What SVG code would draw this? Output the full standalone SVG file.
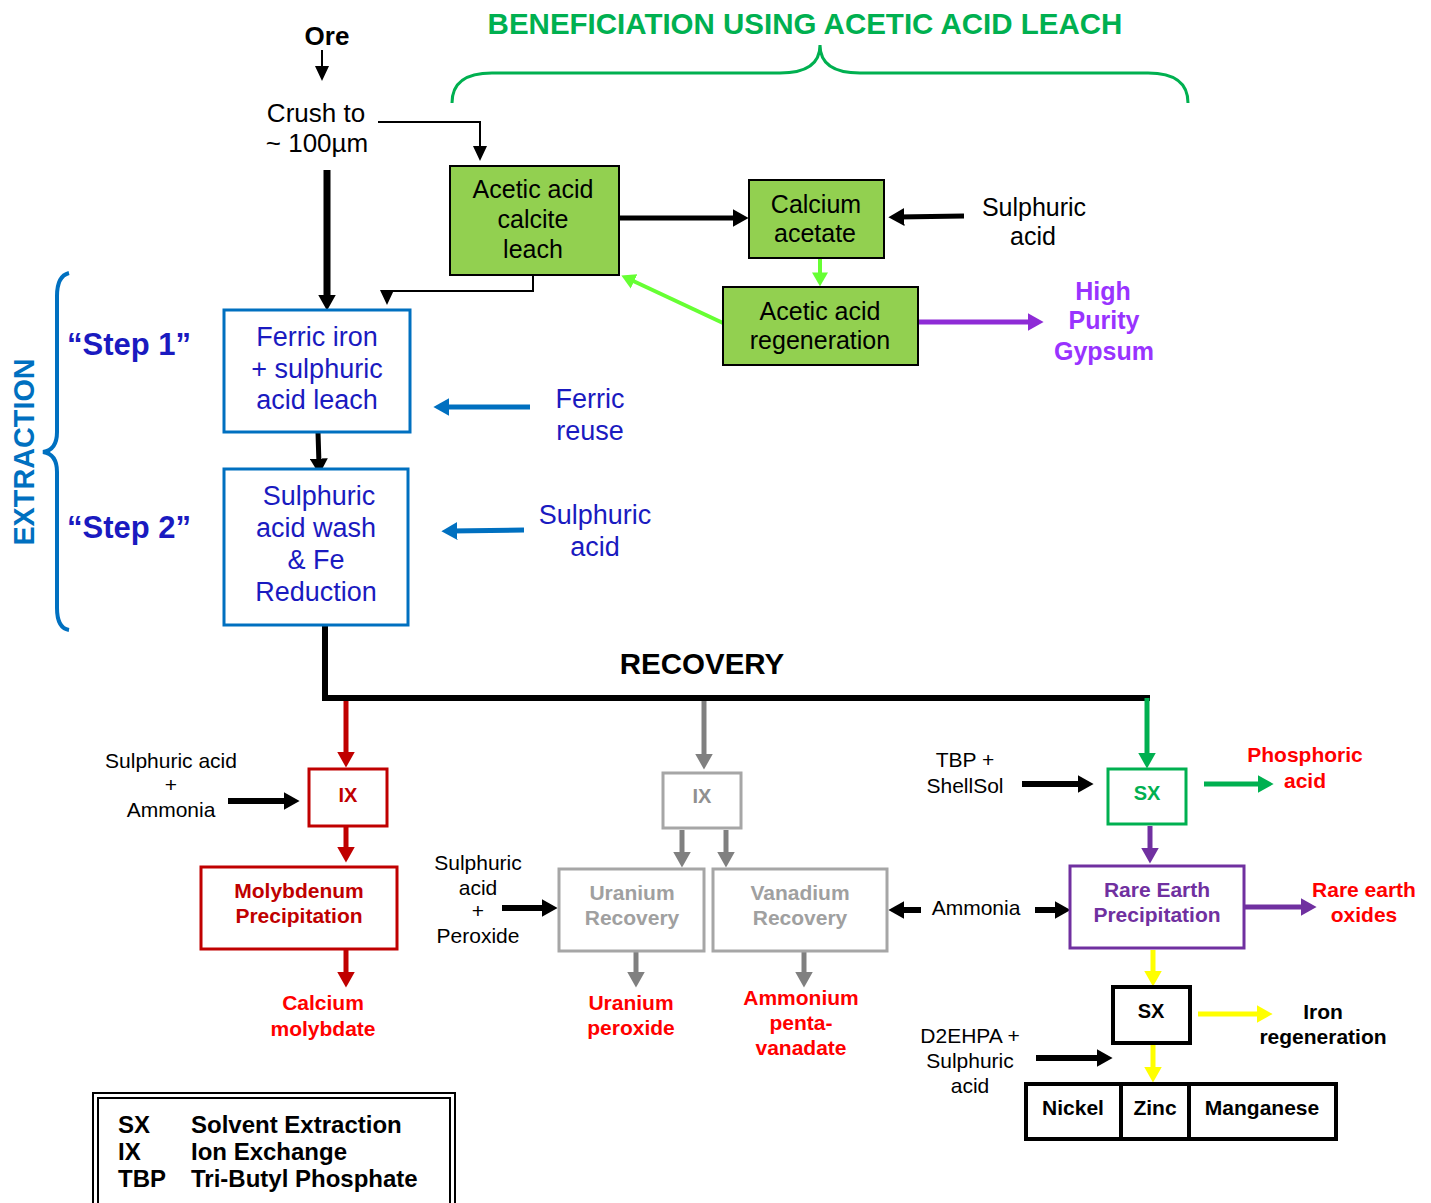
<svg xmlns="http://www.w3.org/2000/svg" width="1431" height="1203" viewBox="0 0 1431 1203">
<style>
text{font-family:"Liberation Sans",Arial,sans-serif;text-anchor:middle}
.b{font-weight:bold}
.t25{font-size:25px;fill:#000}
.t27{font-size:27px;fill:#1A1AC0}
.t21{font-size:21px;fill:#000}
.bb21{font-size:21px;font-weight:bold}
.red{fill:#FF0000}
.dred{fill:#C00000}
.gray{fill:#A0A0A0}
.purp{fill:#7030A0}
.grn{fill:#00B050}
.gbox{fill:#92D050;stroke:#000;stroke-width:2}
.bbox{fill:#fff;stroke:#0070C0;stroke-width:3}
.rbox{fill:#fff;stroke:#C00000;stroke-width:3}
.grbox{fill:#fff;stroke:#A6A6A6;stroke-width:3}
.gnbox{fill:#fff;stroke:#00B050;stroke-width:3}
.pbox{fill:#fff;stroke:#7030A0;stroke-width:3}
.kbox{fill:#fff;stroke:#000;stroke-width:4}
</style>
<defs>
<marker id="mk" viewBox="0 0 10 10" refX="4" refY="5" markerWidth="16" markerHeight="18" markerUnits="userSpaceOnUse" orient="auto" preserveAspectRatio="none"><path d="M0,0L10,5L0,10z" fill="#000"/></marker>
<marker id="mks" viewBox="0 0 10 10" refX="6" refY="5" markerWidth="15" markerHeight="14" markerUnits="userSpaceOnUse" orient="auto" preserveAspectRatio="none"><path d="M0,0L10,5L0,10z" fill="#000"/></marker>
<marker id="mr" viewBox="0 0 10 10" refX="4" refY="5" markerWidth="16" markerHeight="18" markerUnits="userSpaceOnUse" orient="auto" preserveAspectRatio="none"><path d="M0,0L10,5L0,10z" fill="#C00000"/></marker>
<marker id="mg" viewBox="0 0 10 10" refX="4" refY="5" markerWidth="16" markerHeight="18" markerUnits="userSpaceOnUse" orient="auto" preserveAspectRatio="none"><path d="M0,0L10,5L0,10z" fill="#808080"/></marker>
<marker id="mgn" viewBox="0 0 10 10" refX="4" refY="5" markerWidth="16" markerHeight="18" markerUnits="userSpaceOnUse" orient="auto" preserveAspectRatio="none"><path d="M0,0L10,5L0,10z" fill="#00B050"/></marker>
<marker id="mlg" viewBox="0 0 10 10" refX="4" refY="5" markerWidth="14" markerHeight="16" markerUnits="userSpaceOnUse" orient="auto" preserveAspectRatio="none"><path d="M0,0L10,5L0,10z" fill="#66FF33"/></marker>
<marker id="mp" viewBox="0 0 10 10" refX="4" refY="5" markerWidth="16" markerHeight="18" markerUnits="userSpaceOnUse" orient="auto" preserveAspectRatio="none"><path d="M0,0L10,5L0,10z" fill="#7030A0"/></marker>
<marker id="mv" viewBox="0 0 10 10" refX="4" refY="5" markerWidth="16" markerHeight="18" markerUnits="userSpaceOnUse" orient="auto" preserveAspectRatio="none"><path d="M0,0L10,5L0,10z" fill="#8E2BD6"/></marker>
<marker id="my" viewBox="0 0 10 10" refX="4" refY="5" markerWidth="16" markerHeight="18" markerUnits="userSpaceOnUse" orient="auto" preserveAspectRatio="none"><path d="M0,0L10,5L0,10z" fill="#FFFF00"/></marker>
<marker id="mb" viewBox="0 0 10 10" refX="4" refY="5" markerWidth="16" markerHeight="18" markerUnits="userSpaceOnUse" orient="auto" preserveAspectRatio="none"><path d="M0,0L10,5L0,10z" fill="#0070C0"/></marker>
</defs>
<rect width="1431" height="1203" fill="#fff"/>

<!-- headings -->
<g id="title">
<text x="805" y="34" class="b" style="font-size:29.5px;fill:#00B050">BENEFICIATION USING ACETIC ACID LEACH</text>
<path d="M452,103 Q452,73 492,73 L780,73 Q820,73 820,45 Q820,73 860,73 L1148,73 Q1188,73 1188,103" fill="none" stroke="#00B050" stroke-width="3"/>
</g>
<g id="extraction-label">
<path d="M69,273 Q57,276 57,296 L57,432 Q57,450 43,452 Q57,454 57,472 L57,608 Q57,628 69,630" fill="none" stroke="#0070C0" stroke-width="4"/>
<text transform="translate(34,452) rotate(-90)" class="b" style="font-size:28.8px;fill:#0070C0">EXTRACTION</text>
<text x="67" y="355" class="b" style="font-size:31px;fill:#1A1AC0;text-anchor:start">“Step 1”</text>
<text x="67" y="538" class="b" style="font-size:31px;fill:#1A1AC0;text-anchor:start">“Step 2”</text>
</g>
<g id="recovery-label"><text x="702" y="674" class="b" style="font-size:29.5px">RECOVERY</text></g>

<!-- connectors -->
<g id="connectors" fill="none">
<line x1="322" y1="50" x2="322" y2="75" stroke="#000" stroke-width="2" marker-end="url(#mks)"/>
<polyline points="378,122 480,122 480,155" stroke="#000" stroke-width="2" marker-end="url(#mks)"/>
<line x1="327" y1="170" x2="327" y2="301" stroke="#000" stroke-width="7" marker-end="url(#mk)"/>
<polyline points="533,275 533,291 387,291 387,299" stroke="#000" stroke-width="2" marker-end="url(#mks)"/>
<line x1="619" y1="218" x2="739" y2="218" stroke="#000" stroke-width="5" marker-end="url(#mk)"/>
<line x1="964" y1="216" x2="898" y2="217" stroke="#000" stroke-width="5" marker-end="url(#mk)"/>
<line x1="820" y1="258" x2="820" y2="278" stroke="#66FF33" stroke-width="4" marker-end="url(#mlg)"/>
<line x1="723" y1="323" x2="629" y2="279" stroke="#66FF33" stroke-width="4" marker-end="url(#mlg)"/>
<line x1="919" y1="322" x2="1034" y2="322" stroke="#8E2BD6" stroke-width="5" marker-end="url(#mv)"/>
<line x1="530" y1="407" x2="443" y2="407" stroke="#0070C0" stroke-width="5" marker-end="url(#mb)"/>
<line x1="524" y1="530" x2="451" y2="531" stroke="#0070C0" stroke-width="5" marker-end="url(#mb)"/>
<line x1="318" y1="432" x2="319" y2="465" stroke="#000" stroke-width="5" marker-end="url(#mk)"/>
<polyline points="325,625 325,698 1150,698" stroke="#000" stroke-width="6"/>
<line x1="346" y1="701" x2="346" y2="758" stroke="#C00000" stroke-width="5" marker-end="url(#mr)"/>
<line x1="228" y1="801" x2="290" y2="801" stroke="#000" stroke-width="6" marker-end="url(#mk)"/>
<line x1="346" y1="826" x2="346" y2="853" stroke="#C00000" stroke-width="5" marker-end="url(#mr)"/>
<line x1="346" y1="949" x2="346" y2="978" stroke="#C00000" stroke-width="5" marker-end="url(#mr)"/>
<line x1="704" y1="701" x2="704" y2="760" stroke="#808080" stroke-width="5" marker-end="url(#mg)"/>
<line x1="682" y1="830" x2="682" y2="858" stroke="#808080" stroke-width="5" marker-end="url(#mg)"/>
<line x1="726" y1="830" x2="726" y2="858" stroke="#808080" stroke-width="5" marker-end="url(#mg)"/>
<line x1="502" y1="908" x2="548" y2="908" stroke="#000" stroke-width="6" marker-end="url(#mk)"/>
<line x1="921" y1="910" x2="898" y2="910" stroke="#000" stroke-width="6" marker-end="url(#mk)"/>
<line x1="636" y1="951" x2="636" y2="978" stroke="#808080" stroke-width="5" marker-end="url(#mg)"/>
<line x1="804" y1="951" x2="804" y2="978" stroke="#808080" stroke-width="5" marker-end="url(#mg)"/>
<line x1="1147" y1="698" x2="1147" y2="759" stroke="#00B050" stroke-width="5" marker-end="url(#mgn)"/>
<line x1="1022" y1="784" x2="1084" y2="784" stroke="#000" stroke-width="6" marker-end="url(#mk)"/>
<line x1="1204" y1="784" x2="1264" y2="784" stroke="#00B050" stroke-width="5" marker-end="url(#mgn)"/>
<line x1="1150" y1="826" x2="1150" y2="854" stroke="#7030A0" stroke-width="5" marker-end="url(#mp)"/>
<line x1="1035" y1="910" x2="1061" y2="910" stroke="#000" stroke-width="6" marker-end="url(#mk)"/>
<line x1="1244" y1="907" x2="1307" y2="907" stroke="#7030A0" stroke-width="5" marker-end="url(#mp)"/>
<line x1="1153" y1="950" x2="1153" y2="977" stroke="#FFFF00" stroke-width="5" marker-end="url(#my)"/>
<line x1="1198" y1="1014" x2="1263" y2="1014" stroke="#FFFF00" stroke-width="5" marker-end="url(#my)"/>
<line x1="1153" y1="1045" x2="1153" y2="1073" stroke="#FFFF00" stroke-width="5" marker-end="url(#my)"/>
<line x1="1036" y1="1058" x2="1103" y2="1058" stroke="#000" stroke-width="6" marker-end="url(#mk)"/>
</g>

<!-- nodes -->
<g id="ore"><text x="327" y="45" class="b" style="font-size:26px">Ore</text></g>
<g id="crush"><text x="316" y="122" style="font-size:26px">Crush to</text><text x="317" y="152" style="font-size:26px">~ 100µm</text></g>
<g id="acetic-leach"><rect x="450" y="166" width="169" height="109" class="gbox"/>
<text x="533" y="198" class="t25">Acetic acid</text><text x="533" y="228" class="t25">calcite</text><text x="533" y="258" class="t25">leach</text></g>
<g id="calcium-acetate"><rect x="749" y="180" width="135" height="78" class="gbox"/>
<text x="816" y="213" class="t25">Calcium</text><text x="815" y="242" class="t25">acetate</text></g>
<g id="sulphuric-top"><text x="1034" y="216" class="t25">Sulphuric</text><text x="1033" y="245" class="t25">acid</text></g>
<g id="acetic-regen"><rect x="723" y="287" width="195" height="78" class="gbox"/>
<text x="820" y="320" class="t25">Acetic acid</text><text x="820" y="349" class="t25">regeneration</text></g>
<g id="gypsum"><text x="1103" y="300" class="b" style="font-size:25px;fill:#9933FF">High</text><text x="1104" y="329" class="b" style="font-size:25px;fill:#9933FF">Purity</text><text x="1104" y="360" class="b" style="font-size:25px;fill:#9933FF">Gypsum</text></g>
<g id="step1"><rect x="224" y="310" width="186" height="122" class="bbox"/>
<text x="317" y="346" class="t27">Ferric iron</text><text x="317" y="378" class="t27">+ sulphuric</text><text x="317" y="409" class="t27">acid leach</text></g>
<g id="ferric-reuse"><text x="590" y="408" class="t27">Ferric</text><text x="590" y="440" class="t27">reuse</text></g>
<g id="step2"><rect x="224" y="469" width="184" height="156" class="bbox"/>
<text x="319" y="505" class="t27">Sulphuric</text><text x="316" y="537" class="t27">acid wash</text><text x="316" y="569" class="t27">&amp; Fe</text><text x="316" y="601" class="t27">Reduction</text></g>
<g id="sulphuric-blue"><text x="595" y="524" class="t27">Sulphuric</text><text x="595" y="556" class="t27">acid</text></g>

<g id="sulph-ammonia"><text x="171" y="768" class="t21">Sulphuric acid</text><text x="171" y="792" class="t21">+</text><text x="171" y="817" class="t21">Ammonia</text></g>
<g id="ix-red"><rect x="309" y="769" width="78" height="57" class="rbox"/><text x="348" y="802" class="b dred" style="font-size:20px">IX</text></g>
<g id="moly"><rect x="201" y="867" width="196" height="82" class="rbox"/>
<text x="299" y="898" class="bb21 dred">Molybdenum</text><text x="299" y="923" class="bb21 dred">Precipitation</text></g>
<g id="calcium-molybdate"><text x="323" y="1010" class="bb21 red">Calcium</text><text x="323" y="1036" class="bb21 red">molybdate</text></g>
<g id="sulph-peroxide"><text x="478" y="870" class="t21">Sulphuric</text><text x="478" y="895" class="t21">acid</text><text x="478" y="918" class="t21">+</text><text x="478" y="943" class="t21">Peroxide</text></g>
<g id="ix-gray"><rect x="663" y="773" width="78" height="55" class="grbox"/><text x="702" y="803" class="b" style="font-size:20px;fill:#909090">IX</text></g>
<g id="uranium-recovery"><rect x="559" y="869" width="145" height="82" class="grbox"/>
<text x="632" y="900" class="bb21 gray">Uranium</text><text x="632" y="925" class="bb21 gray">Recovery</text></g>
<g id="vanadium-recovery"><rect x="713" y="869" width="174" height="82" class="grbox"/>
<text x="800" y="900" class="bb21 gray">Vanadium</text><text x="800" y="925" class="bb21 gray">Recovery</text></g>
<g id="uranium-peroxide"><text x="631" y="1010" class="bb21 red">Uranium</text><text x="631" y="1035" class="bb21 red">peroxide</text></g>
<g id="ammonium-pentavanadate"><text x="801" y="1005" class="bb21 red">Ammonium</text><text x="801" y="1030" class="bb21 red">penta-</text><text x="801" y="1055" class="bb21 red">vanadate</text></g>
<g id="ammonia"><text x="976" y="915" class="t21">Ammonia</text></g>
<g id="tbp-shellsol"><text x="965" y="767" class="t21">TBP +</text><text x="965" y="793" class="t21">ShellSol</text></g>
<g id="sx-green"><rect x="1108" y="769" width="78" height="55" class="gnbox"/><text x="1147" y="800" class="b grn" style="font-size:20px">SX</text></g>
<g id="phosphoric"><text x="1305" y="762" class="bb21 red">Phosphoric</text><text x="1305" y="788" class="bb21 red">acid</text></g>
<g id="rare-earth-precip"><rect x="1070" y="866" width="174" height="82" class="pbox"/>
<text x="1157" y="897" class="bb21 purp">Rare Earth</text><text x="1157" y="922" class="bb21 purp">Precipitation</text></g>
<g id="rare-earth-oxides"><text x="1364" y="897" class="bb21 red">Rare earth</text><text x="1364" y="922" class="bb21 red">oxides</text></g>
<g id="sx-black"><rect x="1113" y="987" width="77" height="56" class="kbox"/><text x="1151" y="1018" class="b" style="font-size:20px">SX</text></g>
<g id="iron-regeneration"><text x="1323" y="1019" class="bb21">Iron</text><text x="1323" y="1044" class="bb21">regeneration</text></g>
<g id="d2ehpa"><text x="970" y="1043" class="t21">D2EHPA +</text><text x="970" y="1068" class="t21">Sulphuric</text><text x="970" y="1093" class="t21">acid</text></g>
<g id="metals"><rect x="1026" y="1084" width="310" height="55" class="kbox"/>
<line x1="1121" y1="1084" x2="1121" y2="1139" stroke="#000" stroke-width="4"/>
<line x1="1189" y1="1084" x2="1189" y2="1139" stroke="#000" stroke-width="4"/>
<text x="1073" y="1115" class="bb21">Nickel</text><text x="1155" y="1115" class="bb21">Zinc</text><text x="1262" y="1115" class="bb21">Manganese</text></g>

<g id="legend">
<rect x="93" y="1093" width="362" height="130" fill="#fff" stroke="#000" stroke-width="2"/>
<rect x="98" y="1098" width="352" height="120" fill="none" stroke="#000" stroke-width="2"/>
<g class="b" style="font-size:24px">
<text x="118" y="1133" style="text-anchor:start">SX</text><text x="191" y="1133" style="text-anchor:start">Solvent Extraction</text>
<text x="118" y="1160" style="text-anchor:start">IX</text><text x="191" y="1160" style="text-anchor:start">Ion Exchange</text>
<text x="118" y="1187" style="text-anchor:start">TBP</text><text x="191" y="1187" style="text-anchor:start">Tri-Butyl Phosphate</text>
</g></g>
</svg>
